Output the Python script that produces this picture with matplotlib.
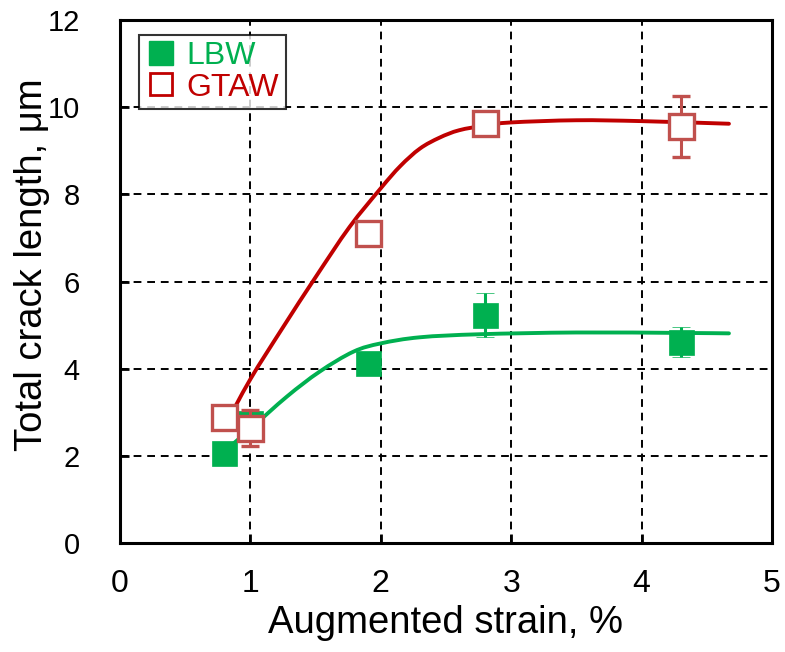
import matplotlib
matplotlib.use("Agg")
import matplotlib.pyplot as plt
from matplotlib import font_manager
from matplotlib.path import Path
from matplotlib.patches import PathPatch
from matplotlib.lines import Line2D

names = {f.name for f in font_manager.fontManager.ttflist}
BASE = "Liberation Sans" if "Liberation Sans" in names else "DejaVu Sans"
plt.rcParams['font.family'] = [BASE, 'DejaVu Sans']

# ---- data ----
strain = [0.8, 1.0, 1.9, 2.8, 4.3]
lbw = [2.06, 2.75, 4.13, 5.23, 4.61]
lbw_err = [0.0, 0.0, 0.1, 0.5, 0.35]
gtaw = [2.89, 2.64, 7.11, 9.64, 9.56]
gtaw_err = [0.0, 0.42, 0.0, 0.0, 0.7]

gtaw_fit_x = [0.8, 1.0, 1.25, 1.5, 1.76, 2.0, 2.15, 2.3, 2.45, 2.6, 2.8, 3.0, 3.5, 4.0, 4.67]
gtaw_fit_y = [2.66, 3.76, 4.95, 6.1, 7.25, 8.14, 8.65, 9.05, 9.3, 9.47, 9.58, 9.65, 9.70, 9.68, 9.62]
lbw_fit_x = [0.8, 1.0, 1.28, 1.53, 1.79, 2.0, 2.3, 2.76, 3.5, 4.3, 4.67]
lbw_fit_y = [2.1, 2.62, 3.36, 3.93, 4.39, 4.58, 4.72, 4.79, 4.83, 4.82, 4.81]

xticks = [0, 1, 2, 3, 4, 5]
yticks = [0, 2, 4, 6, 8, 10, 12]

GREEN = "#00B050"
RED = "#C00000"
RED_MK = "#C0504D"


def smooth_path(xs, ys):
    """Catmull-Rom spline through the read points, as cubic Bezier segments."""
    pts = list(zip(xs, ys))
    verts = [pts[0]]
    codes = [Path.MOVETO]
    n = len(pts)
    for i in range(n - 1):
        p0 = pts[i - 1] if i > 0 else pts[i]
        p1 = pts[i]
        p2 = pts[i + 1]
        p3 = pts[i + 2] if i + 2 < n else pts[i + 1]
        c1 = (p1[0] + (p2[0] - p0[0]) / 6, p1[1] + (p2[1] - p0[1]) / 6)
        c2 = (p2[0] - (p3[0] - p1[0]) / 6, p2[1] - (p3[1] - p1[1]) / 6)
        verts += [c1, c2, p2]
        codes += [Path.CURVE4] * 3
    return Path(verts, codes)


fig = plt.figure(figsize=(7.85, 6.52), dpi=100)
ax = fig.add_axes([0.1529, 0.1672, 0.8305, 0.8021])

ax.add_patch(PathPatch(smooth_path(gtaw_fit_x, gtaw_fit_y), fill=False, edgecolor=RED,
                       lw=2.8, zorder=3, capstyle='round', joinstyle='round'))
ax.add_patch(PathPatch(smooth_path(lbw_fit_x, lbw_fit_y), fill=False, edgecolor=GREEN,
                       lw=2.8, zorder=3, capstyle='round', joinstyle='round'))

ax.errorbar(strain, lbw, yerr=lbw_err, fmt='s', ms=18, mfc=GREEN, mec=GREEN, mew=0.5,
            ecolor=GREEN, elinewidth=2.2, capsize=6.5, capthick=2.2, zorder=4)
ax.errorbar(strain, gtaw, yerr=gtaw_err, fmt='s', ms=18, mfc='white', mec=RED_MK, mew=2.4,
            ecolor=RED_MK, elinewidth=2.2, capsize=6.5, capthick=2.2, zorder=5)

ax.set_xlim(0, 5)
ax.set_ylim(0, 12)
ax.set_xticks(xticks)
ax.set_yticks(yticks)
ax.set_xticklabels([str(t) for t in xticks], fontsize=23)
ax.set_yticklabels([str(t) for t in yticks], fontsize=21)
ax.tick_params(direction='in', length=6.5, width=2)
ax.tick_params(axis='x', pad=19)
ax.tick_params(axis='y', pad=29)
for s in ax.spines.values():
    s.set_linewidth(2.2)
ax.grid(True, color='black', linestyle=(0, (4, 3)), linewidth=1.4)
ax.set_axisbelow(True)

ax.set_xlabel("Augmented strain, %", fontsize=27.5, labelpad=4)
ax.set_ylabel("Total crack length, μm", fontsize=27.5)
ax.yaxis.set_label_coords(-0.108, 0.532)

h1 = Line2D([], [], marker='s', ls='none', ms=17.5, mfc=GREEN, mec=GREEN)
h2 = Line2D([], [], marker='s', ls='none', ms=15.5, mfc='white', mec=RED, mew=2)
leg = ax.legend([h1, h2], ["LBW", "GTAW"], loc='upper left', bbox_to_anchor=(0.029, 0.972),
                fontsize=23, frameon=True, fancybox=False, edgecolor='black',
                borderpad=0.2, handletextpad=0.3, labelspacing=0.05, handlelength=1.0,
                borderaxespad=0)
leg.get_frame().set_linewidth(1.5)
leg.get_texts()[0].set_color(GREEN)
leg.get_texts()[1].set_color(RED)
leg.set_zorder(6)

fig.savefig("out.png", dpi=100)
